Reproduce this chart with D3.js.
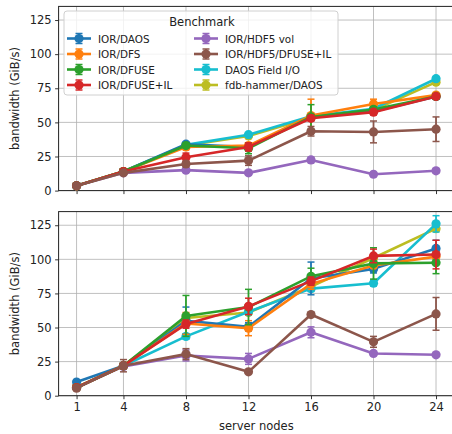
<!DOCTYPE html>
<html>
<head>
<meta charset="utf-8">
<script src="https://cdn.jsdelivr.net/npm/d3@7/dist/d3.min.js"></script>
<style>
  body { margin: 0; background: #fff; }
  svg { display: block; font-family: "DejaVu Sans", sans-serif; }
</style>
</head>
<body>
<svg id="chart" width="452" height="434"></svg>
<script>
const nodes = [1, 4, 8, 12, 16, 20, 24];
const xTicks = [1, 4, 8, 12, 16, 20, 24];
const yTicks = [0, 25, 50, 75, 100, 125];
const seriesNames = ["IOR/DAOS", "IOR/DFS", "IOR/DFUSE", "IOR/DFUSE+IL",
  "IOR/HDF5 vol", "IOR/HDF5/DFUSE+IL", "DAOS Field I/O", "fdb-hammer/DAOS"];
const seriesColors = ["#1f77b4", "#ff7f0e", "#2ca02c", "#d62728",
  "#9467bd", "#8c564b", "#17becf", "#bcbd22"];

// top panel values
const topDAOS    = [3.5, 14, 34, 32, 54, 58, 69];
const topDFS     = [3.5, 14, 32, 33, 55, 63.5, 70];
const topDFUSE   = [3.5, 14, 33, 31, 54, 59.5, 69];
const topDFUSEIL = [3.5, 14, 24.5, 32, 53, 57.5, 69];
const topHDF5    = [3.5, 13, 15, 13, 22.5, 12, 14.5];
const topHDF5IL  = [3.5, 13, 19.5, 22, 43.5, 43, 45];
const topField   = [3.5, 14, 33.5, 41, 54.5, 60, 82];
const topFdb     = [3.5, 14, 33, 40, 53.5, 59, 79.5];
// top panel error half-widths
const topDAOSErr    = [0.3, 1, 1.5, 2, 2, 1.5, 1.5];
const topDFSErr     = [0.3, 1, 2, 2, 12, 3.5, 1.5];
const topDFUSEErr   = [0.3, 1, 1.5, 4, 9, 2, 2];
const topDFUSEILErr = [0.3, 1, 3, 3, 2, 2, 1.5];
const topHDF5Err    = [0.3, 1, 1.5, 1.5, 2, 1, 1.5];
const topHDF5ILErr  = [0.3, 1, 2, 3.5, 3.5, 8, 9];
const topFieldErr   = [0.3, 1, 1, 1.5, 1.5, 1, 1.5];
const topFdbErr     = [0.3, 1, 1, 1.5, 1.5, 1, 1.5];

// bottom panel values
const botDAOS    = [10, 22, 55, 50.5, 86, 93, 108];
const botDFS     = [6, 22, 53, 49.5, 82, 95.5, 102];
const botDFUSE   = [6, 22, 58.5, 65, 87.5, 97, 97.5];
const botDFUSEIL = [6, 22, 52.5, 65.5, 84, 102.5, 103.5];
const botHDF5    = [6, 21.5, 29.5, 27, 46.5, 31, 30];
const botHDF5IL  = [5.5, 22, 30.5, 17.5, 59.5, 39.5, 60];
const botField   = [6, 22, 43.5, 61.5, 78.5, 82.5, 126];
const botFdb     = [6, 22, 57, 61, 80, 101, 122.5];
// bottom panel error half-widths
const botDAOSErr    = [0.5, 2, 10, 3, 12, 3, 6];
const botDFSErr     = [0.5, 2, 8, 5.5, 4, 2, 2];
const botDFUSEErr   = [0.5, 2, 15, 13, 6, 11.5, 8];
const botDFUSEILErr = [0.5, 2, 3, 6, 3, 5, 10.5];
const botHDF5Err    = [0.5, 2, 4, 4, 4, 1.5, 1];
const botHDF5ILErr  = [0.5, 4.5, 4, 1, 1.5, 4, 12];
const botFieldErr   = [0.5, 2, 2, 2, 2, 2, 6];
const botFdbErr     = [0.5, 2, 2, 2, 2, 2, 2];

const topVals = [topDAOS, topDFS, topDFUSE, topDFUSEIL, topHDF5, topHDF5IL, topField, topFdb];
const topErrs = [topDAOSErr, topDFSErr, topDFUSEErr, topDFUSEILErr, topHDF5Err, topHDF5ILErr, topFieldErr, topFdbErr];
const botVals = [botDAOS, botDFS, botDFUSE, botDFUSEIL, botHDF5, botHDF5IL, botField, botFdb];
const botErrs = [botDAOSErr, botDFSErr, botDFUSEErr, botDFUSEILErr, botHDF5Err, botHDF5ILErr, botFieldErr, botFdbErr];

// drawing order (z-order)
const drawOrder = [4, 7, 6, 0, 1, 2, 3, 5];

const svg = d3.select("#chart");
const left = 58.6, right = 454;
const x = d3.scaleLinear().domain([-0.15, 25.15]).range([left, right]);

function panel(top, bottom, vals, errs, showXLabels) {
  const y = d3.scaleLinear().domain([0, 135]).range([bottom, top]);
  const g = svg.append("g");
  // grid
  g.append("g").selectAll("line").data(xTicks).join("line")
    .attr("x1", d => x(d)).attr("x2", d => x(d)).attr("y1", top).attr("y2", bottom)
    .attr("stroke", "#b0b0b0").attr("stroke-width", 0.8);
  g.append("g").selectAll("line").data(yTicks).join("line")
    .attr("x1", left).attr("x2", right).attr("y1", d => y(d)).attr("y2", d => y(d))
    .attr("stroke", "#b0b0b0").attr("stroke-width", 0.8);
  // axes
  const ya = g.append("g").attr("transform", `translate(${left},0)`)
    .call(d3.axisLeft(y).tickValues(yTicks).tickSize(3.5).tickPadding(3.5));
  const xa = g.append("g").attr("transform", `translate(0,${bottom})`)
    .call(d3.axisBottom(x).tickValues(xTicks).tickSize(3.5).tickPadding(3.5)
      .tickFormat(showXLabels ? d3.format("d") : () => ""));
  [ya, xa].forEach(a => {
    a.select(".domain").remove();
    a.selectAll("line").attr("stroke", "#000").attr("stroke-width", 0.8);
    a.selectAll("text").attr("fill", "#222").style("font-size", "11.5px")
      .style("font-family", "DejaVu Sans");
  });
  // frame
  g.append("rect").attr("x", left).attr("y", top).attr("width", right - left)
    .attr("height", bottom - top).attr("fill", "none").attr("stroke", "#222").attr("stroke-width", 1);
  // series
  const line = d3.line().x(d => x(d[0])).y(d => y(d[1]));
  drawOrder.forEach(si => {
    const c = seriesColors[si];
    const pts = nodes.map((n, i) => [n, vals[si][i], errs[si][i]]);
    const sg = g.append("g");
    sg.append("path").datum(pts).attr("d", line).attr("fill", "none")
      .attr("stroke", c).attr("stroke-width", 2.6).attr("stroke-linejoin", "round");
    sg.selectAll(".eb").data(pts).join("line")
      .attr("x1", d => x(d[0])).attr("x2", d => x(d[0]))
      .attr("y1", d => y(d[1] - d[2])).attr("y2", d => y(d[1] + d[2]))
      .attr("stroke", c).attr("stroke-width", 1.8);
    pts.forEach(d => {
      [d[1] - d[2], d[1] + d[2]].forEach(v => {
        sg.append("line").attr("x1", x(d[0]) - 3.5).attr("x2", x(d[0]) + 3.5)
          .attr("y1", y(v)).attr("y2", y(v)).attr("stroke", c).attr("stroke-width", 1.5);
      });
    });
    sg.selectAll("circle").data(pts).join("circle")
      .attr("cx", d => x(d[0])).attr("cy", d => y(d[1])).attr("r", 4.6).attr("fill", c);
  });
  // y label
  svg.append("text").attr("transform", `translate(15,${(top + bottom) / 2}) rotate(-90)`)
    .attr("text-anchor", "middle").attr("dominant-baseline", "middle")
    .style("font-size", "11.5px").attr("fill", "#222").text("bandwidth (GiB/s)");
  return y;
}

panel(6.4, 190.6, topVals, topErrs, false);
panel(211.6, 395.7, botVals, botErrs, true);

svg.append("text").attr("x", (left + right) / 2).attr("y", 430).attr("text-anchor", "middle")
  .style("font-size", "11.5px").attr("fill", "#222").text("server nodes");

// legend
const lg = svg.append("g");
lg.append("rect").attr("x", 64).attr("y", 11).attr("width", 274).attr("height", 84)
  .attr("rx", 3).attr("fill", "#fff").attr("fill-opacity", 0.8)
  .attr("stroke", "#d0d0d0").attr("stroke-width", 1);
lg.append("text").attr("x", 202).attr("y", 26).attr("text-anchor", "middle")
  .style("font-size", "11.5px").attr("fill", "#222").text("Benchmark");
seriesNames.forEach((name, i) => {
  const col = Math.floor(i / 4), row = i % 4;
  const hx = col === 0 ? 67 : 194;
  const yy = 38.5 + row * 15.5;
  const c = seriesColors[i];
  const eg = lg.append("g");
  eg.append("line").attr("x1", hx).attr("x2", hx + 24).attr("y1", yy).attr("y2", yy)
    .attr("stroke", c).attr("stroke-width", 2.6);
  eg.append("line").attr("x1", hx + 12).attr("x2", hx + 12).attr("y1", yy - 5).attr("y2", yy + 5)
    .attr("stroke", c).attr("stroke-width", 1.8);
  [yy - 5, yy + 5].forEach(v => eg.append("line").attr("x1", hx + 8.5).attr("x2", hx + 15.5)
    .attr("y1", v).attr("y2", v).attr("stroke", c).attr("stroke-width", 1.5));
  eg.append("circle").attr("cx", hx + 12).attr("cy", yy).attr("r", 4.6).attr("fill", c);
  eg.append("text").attr("x", hx + 31).attr("y", yy).attr("dominant-baseline", "central")
    .style("font-size", "10.4px").attr("fill", "#222").text(name);
});
</script>
</body>
</html>
